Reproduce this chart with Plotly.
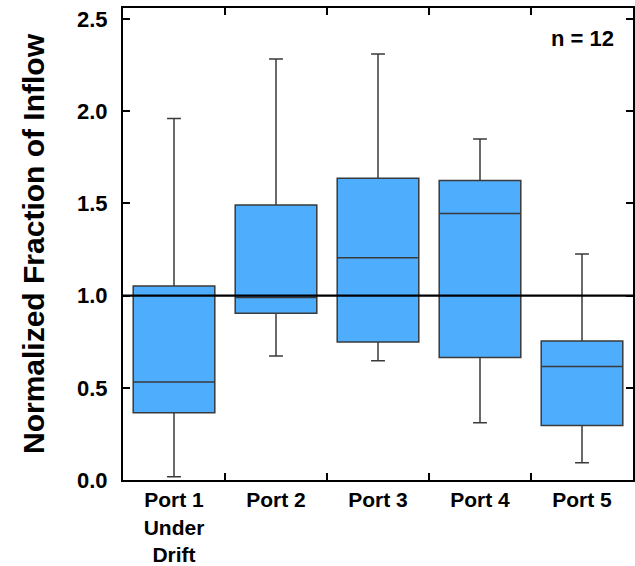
import plotly.graph_objects as go

categories = ["Port 1<br>Under<br>Drift", "Port 2", "Port 3", "Port 4", "Port 5"]
lower_whisker = [0.018, 0.672, 0.647, 0.311, 0.094]
q1_values = [0.365, 0.904, 0.748, 0.665, 0.295]
median_values = [0.531, 0.99, 1.206, 1.446, 0.615]
q3_values = [1.052, 1.491, 1.636, 1.625, 0.754]
upper_whisker = [1.961, 2.283, 2.31, 1.849, 1.226]
y_ticks = [0.0, 0.5, 1.0, 1.5, 2.0, 2.5]
reference_value = 1.0
n_label = "n = 12"

FONT = "Liberation Sans, Arial, sans-serif"

fig = go.Figure()
fig.add_trace(go.Box(
    x=categories,
    q1=q1_values,
    median=median_values,
    q3=q3_values,
    lowerfence=lower_whisker,
    upperfence=upper_whisker,
    fillcolor="#4FADFE",
    line=dict(color="#3a3a3a", width=1.5),
    width=0.8,
    whiskerwidth=0.17,
    boxpoints=False,
    showlegend=False,
    hoverinfo="skip",
))

fig.add_shape(type="line", xref="paper", yref="y", x0=0, x1=1,
              y0=reference_value, y1=reference_value,
              line=dict(color="black", width=2.2), layer="above")

fig.add_annotation(text=n_label, xref="paper", yref="paper", x=0.967, y=0.936,
                   xanchor="right", yanchor="middle", showarrow=False,
                   font=dict(family=FONT, size=22, color="black", weight="bold"))

fig.update_layout(
    width=635, height=566,
    margin=dict(l=123, r=2, t=8, b=86, autoexpand=False),
    paper_bgcolor="white", plot_bgcolor="white",
    font=dict(family=FONT, color="black"),
)
fig.update_xaxes(
    type="category", range=[-0.5, 4.5], automargin=False,
    showline=True, linecolor="black", linewidth=2, mirror="ticks",
    ticks="inside", ticklen=7, tickwidth=1.5, tickcolor="black",
    tickson="boundaries", showgrid=False, zeroline=False,
    tickfont=dict(family=FONT, size=21, color="black", weight="bold"),
)
fig.update_yaxes(
    range=[0, 2.56], tickvals=y_ticks, ticktext=[f"{v:.1f}" for v in y_ticks],
    automargin=False,
    showline=True, linecolor="black", linewidth=2, mirror="ticks",
    ticks="inside", ticklen=7, tickwidth=1.5, tickcolor="black",
    showgrid=False, zeroline=False, ticklabelstandoff=9,
    tickfont=dict(family=FONT, size=22, color="black", weight="bold"),
    title=dict(text="Normalized Fraction of Inflow", standoff=24,
               font=dict(family=FONT, size=30, color="black", weight="bold")),
)

fig.write_html("out.html", config={"displayModeBar": False},
               post_script="document.body.style.margin='0';document.body.style.padding='0';")
